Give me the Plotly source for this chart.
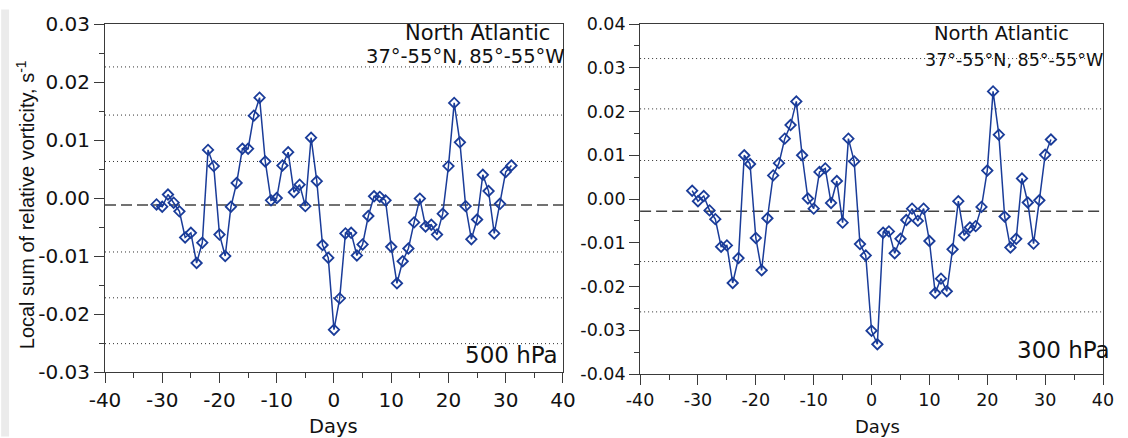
import plotly.graph_objects as go

# ---------------- data ----------------
days = list(range(-31, 32))

vort_500 = [-0.0011, -0.0015, 0.0006, -0.0008, -0.0023, -0.0068, -0.0060, -0.0112, -0.0077, 0.0083,
            0.0055, -0.0063, -0.0100, -0.0015, 0.0026, 0.0085, 0.0085, 0.0142, 0.0173, 0.0063,
            -0.0004, 0.0000, 0.0056, 0.0079, 0.0010, 0.0023, -0.0014, 0.0104, 0.0029, -0.0081,
            -0.0103, -0.0227, -0.0173, -0.0061, -0.0060, -0.0099, -0.0080, -0.0031, 0.0003, 0.0002,
            -0.0004, -0.0084, -0.0147, -0.0109, -0.0087, -0.0042, -0.0001, -0.0049, -0.0046, -0.0063,
            -0.0027, 0.0055, 0.0164, 0.0096, -0.0014, -0.0071, -0.0037, 0.0040, 0.0012, -0.0061,
            -0.0010, 0.0045, 0.0056]

vort_300 = [0.0019, -0.0005, 0.0007, -0.0026, -0.0046, -0.0109, -0.0106, -0.0192, -0.0135, 0.0100,
            0.0080, -0.0089, -0.0163, -0.0044, 0.0054, 0.0082, 0.0138, 0.0169, 0.0223, 0.0100,
            0.0001, -0.0022, 0.0062, 0.0070, -0.0009, 0.0041, -0.0054, 0.0138, 0.0086, -0.0103,
            -0.0129, -0.0301, -0.0332, -0.0077, -0.0074, -0.0124, -0.0091, -0.0048, -0.0022, -0.0050,
            -0.0022, -0.0096, -0.0215, -0.0182, -0.0211, -0.0115, -0.0005, -0.0083, -0.0065, -0.0062,
            -0.0018, 0.0065, 0.0246, 0.0147, -0.0040, -0.0111, -0.0091, 0.0047, -0.0008, -0.0102,
            -0.0003, 0.0101, 0.0136]

mean_500 = -0.0012
sigma_lines_500 = [0.0226, 0.0143, 0.0063, -0.0093, -0.0172, -0.0251]
mean_300 = -0.0028
sigma_lines_300 = [0.0321, 0.0206, 0.0088, -0.0143, -0.0258]

x_tickvals = [-40, -30, -20, -10, 0, 10, 20, 30, 40]
x_ticktext = ["-40", "-30", "-20", "-10", "0", "10", "20", "30", "40"]
y500_tickvals = [-0.03, -0.02, -0.01, 0.0, 0.01, 0.02, 0.03]
y500_ticktext = ["-0.03", "-0.02", "-0.01", "0.00", "0.01", "0.02", "0.03"]
y300_tickvals = [-0.04, -0.03, -0.02, -0.01, 0.0, 0.01, 0.02, 0.03, 0.04]
y300_ticktext = ["-0.04", "-0.03", "-0.02", "-0.01", "0.00", "0.01", "0.02", "0.03", "0.04"]

# ---------------- style ----------------
BLUE = "#1a3c99"
AX = "#3a3a3a"
TICKFONT = "DejaVu Sans"
W, H = 1128, 438
ML, MR, MT, MB = 105, 14, 15, 64
PW = W - ML - MR
PH = H - MT - MB


def px_x(p):
    return (p - ML) / PW


def px_y(p):
    return (H - MB - p) / PH


fig = go.Figure()

panels = [
    ("x", "y", mean_500, sigma_lines_500, vort_500),
    ("x2", "y2", mean_300, sigma_lines_300, vort_300),
]
for xa, ya, mean, sig, vals in panels:
    for lvl in sig:
        fig.add_trace(go.Scatter(x=[-40, 40], y=[lvl, lvl], mode="lines", xaxis=xa, yaxis=ya,
                                 line=dict(color="#333333", width=1, dash="1px,3px"),
                                 hoverinfo="skip", showlegend=False))
    fig.add_trace(go.Scatter(x=[-40, 40], y=[mean, mean], mode="lines", xaxis=xa, yaxis=ya,
                             line=dict(color="#444444", width=1.3, dash="11px,5px"),
                             hoverinfo="skip", showlegend=False))
    fig.add_trace(go.Scatter(x=days, y=vals, mode="lines+markers", xaxis=xa, yaxis=ya,
                             line=dict(color=BLUE, width=1.5),
                             marker=dict(symbol="diamond-open", size=8, color=BLUE,
                                         line=dict(color=BLUE, width=1.8)),
                             showlegend=False))


def xaxis(domain, anchor, size):
    return dict(domain=domain, anchor=anchor, range=[-40, 40], tickmode="array",
                tickvals=x_tickvals, ticktext=x_ticktext, ticks="outside", ticklen=10,
                tickwidth=1, tickcolor=AX, showline=True, linecolor=AX, linewidth=1,
                mirror=True, showgrid=False, zeroline=False,
                tickfont=dict(family=TICKFONT, size=size, color="#111"),
                minor=dict(dtick=5, tick0=0, ticks="outside", ticklen=5, tickcolor=AX,
                           showgrid=False))


def yaxis(domain, anchor, rng, tv, tt, size):
    return dict(domain=domain, anchor=anchor, range=rng, tickmode="array", tickvals=tv,
                ticktext=tt, ticks="outside", ticklen=10, tickwidth=1, tickcolor=AX,
                showline=True, linecolor=AX, linewidth=1, mirror=True, showgrid=False,
                zeroline=False, tickfont=dict(family=TICKFONT, size=size, color="#111"),
                minor=dict(dtick=0.005, tick0=0, ticks="outside", ticklen=5, tickcolor=AX,
                           showgrid=False))


fig.update_layout(
    width=W, height=H,
    margin=dict(l=ML, r=MR, t=MT, b=MB),
    paper_bgcolor="white", plot_bgcolor="white",
    xaxis=xaxis([px_x(105), px_x(568)], "y", 20),
    yaxis=yaxis([px_y(372), px_y(15)], "x", [-0.03, 0.03], y500_tickvals, y500_ticktext, 20),
    xaxis2=xaxis([px_x(646), px_x(1114)], "y2", 17.5),
    yaxis2=yaxis([px_y(374), px_y(15)], "x2", [-0.04, 0.04], y300_tickvals, y300_ticktext, 17.5),
)

ann = []


def A(text, x, y, size, xanchor="right", family=TICKFONT, textangle=0):
    ann.append(dict(text=text, x=x, y=y, xref="paper", yref="paper", xanchor=xanchor,
                    yanchor="middle", showarrow=False, textangle=textangle,
                    font=dict(family=family, size=size, color="#111")))


A("North Atlantic", px_x(557), px_y(24), 21)
A("37°-55°N, 85°-55°W", px_x(572), px_y(48), 19.5)
A("500 hPa", px_x(565), px_y(354), 23)
A("North Atlantic", px_x(1082), px_y(25), 19.5)
A("37°-55°N, 85°-55°W", px_x(1116), px_y(52), 17.5)
A("300 hPa", px_x(1123), px_y(349), 23)
A("Days", px_x(336.5), px_y(428), 19.5, xanchor="center")
A("Days", px_x(886), px_y(428), 18, xanchor="center")
A("Local sum of relative vorticity, s<sup>-1</sup>", px_x(24), px_y(200), 20,
  xanchor="center", family="Liberation Sans", textangle=-90)
fig.update_layout(annotations=ann)

fig.add_shape(type="rect", xref="paper", yref="paper", x0=px_x(0), x1=px_x(8),
              y0=px_y(H), y1=px_y(0), fillcolor="#ebebeb", line=dict(width=0), layer="below")

fig.write_html("out.html")
